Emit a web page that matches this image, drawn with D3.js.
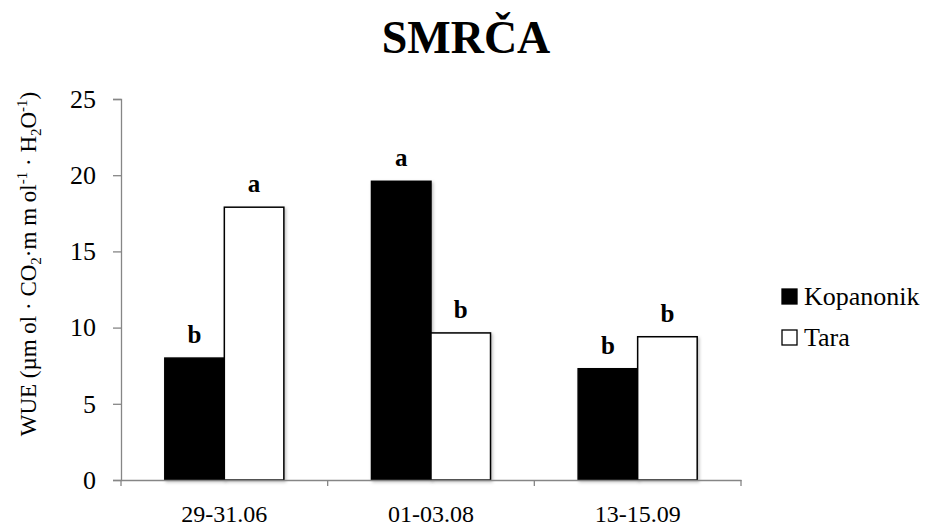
<!DOCTYPE html>
<html><head><meta charset="utf-8">
<script src="https://cdn.jsdelivr.net/npm/d3@7"></script>
<style>body{margin:0;background:#fff}svg{display:block}text{font-family:"Liberation Serif","Times New Roman",serif}</style>
</head><body>
<svg id="c" width="928" height="529"></svg>
<script>
const categories = ["29-31.06", "01-03.08", "13-15.09"];
const seriesNames = ["Kopanonik", "Tara"];
const kopanonik = [8.0, 19.6, 7.3];
const tara = [17.9, 9.65, 9.4];
const kopanonikLetters = ["b", "a", "b"];
const taraLetters = ["a", "b", "b"];
const yTicks = [0, 5, 10, 15, 20, 25];

const svg = d3.select("#c");
const pLeft = 121, pRight = 741, pTop = 99, pBottom = 480;
const x = d3.scaleBand().domain(categories).range([pLeft, pRight]).paddingInner(0.424).paddingOuter(0.212);
const xs = d3.scaleBand().domain(seriesNames).range([0, x.bandwidth()]);
const y = d3.scaleLinear().domain([0, 25]).range([pBottom, pTop]);
const fills = {Kopanonik: "#000", Tara: "#fff"};
const data = categories.map((c, i) => ({c, vals: [
  {s: "Kopanonik", v: kopanonik[i], l: kopanonikLetters[i]},
  {s: "Tara", v: tara[i], l: taraLetters[i]}]}));

svg.append("text").attr("x", 466).attr("y", 53).attr("text-anchor", "middle")
  .attr("font-size", 46).attr("font-weight", "bold").text("SMRČA");

const defs = svg.append("defs");
const f = defs.append("filter").attr("id", "sh").attr("x", "-10%").attr("y", "-10%").attr("width", "130%").attr("height", "130%");
f.append("feDropShadow").attr("dx", 1.5).attr("dy", 1.5).attr("stdDeviation", 1.5).attr("flood-color", "#000").attr("flood-opacity", 0.25);

const g = svg.append("g");
const grp = g.selectAll("g.grp").data(data).join("g").attr("transform", d => `translate(${x(d.c)},0)`);
grp.selectAll("rect").data(d => d.vals).join("rect")
  .attr("x", d => xs(d.s)).attr("width", xs.bandwidth())
  .attr("y", d => y(d.v)).attr("height", d => y(0) - y(d.v))
  .attr("fill", d => fills[d.s]).attr("stroke", "#000").attr("stroke-width", 1.5)
  .attr("filter", "url(#sh)");
grp.selectAll("text").data(d => d.vals).join("text")
  .attr("x", d => xs(d.s) + xs.bandwidth() / 2).attr("y", d => y(d.v) - 15)
  .attr("text-anchor", "middle").attr("font-size", 25).attr("font-weight", "bold").text(d => d.l);

const ya = svg.append("g").attr("transform", `translate(${pLeft},0)`)
  .call(d3.axisLeft(y).tickValues(yTicks).tickSize(8).tickPadding(17));
ya.select(".domain").attr("stroke", "#868686").attr("stroke-width", 1.3);
ya.selectAll(".tick line").attr("stroke", "#868686").attr("stroke-width", 1.3);
ya.selectAll(".tick text").attr("font-size", 26).attr("fill", "#000");

const xa = svg.append("g").attr("transform", `translate(0,${pBottom})`)
  .call(d3.axisBottom(x).tickSize(0).tickPadding(25).tickSizeOuter(0));
xa.select(".domain").attr("stroke", "#868686").attr("stroke-width", 1.3);
xa.selectAll(".tick text").attr("font-size", 24).attr("fill", "#000");
const bounds = categories.map(c => x(c) - x.step() * x.paddingInner() / 2).concat([pRight]);
xa.selectAll("line.b").data(bounds).join("line").attr("class", "b")
  .attr("x1", d => d).attr("x2", d => d).attr("y1", 0).attr("y2", 6)
  .attr("stroke", "#868686").attr("stroke-width", 1.3);

const yl = svg.append("text").attr("transform", "translate(36,264) rotate(-90)")
  .attr("text-anchor", "middle").attr("font-size", 23);
yl.append("tspan").text("WUE (µm ol · CO");
yl.append("tspan").attr("font-size", 15).attr("dy", 5).text("2");
yl.append("tspan").attr("dy", -5).text("·m m ol");
yl.append("tspan").attr("font-size", 15).attr("dy", -9).text("-1");
yl.append("tspan").attr("dy", 9).text(" · H");
yl.append("tspan").attr("font-size", 15).attr("dy", 5).text("2");
yl.append("tspan").attr("dy", -5).text("O");
yl.append("tspan").attr("font-size", 15).attr("dy", -9).text("-1");
yl.append("tspan").attr("dy", 9).text(")");

const lg = svg.append("g").selectAll("g").data(seriesNames).join("g")
  .attr("transform", (d, i) => `translate(782,${289 + i * 41})`);
lg.append("rect").attr("width", 15).attr("height", 15).attr("fill", d => fills[d]).attr("stroke", "#000").attr("stroke-width", 1.3);
lg.append("text").attr("x", 22).attr("y", 16).attr("font-size", 26).text(d => d);
</script>
</body></html>
